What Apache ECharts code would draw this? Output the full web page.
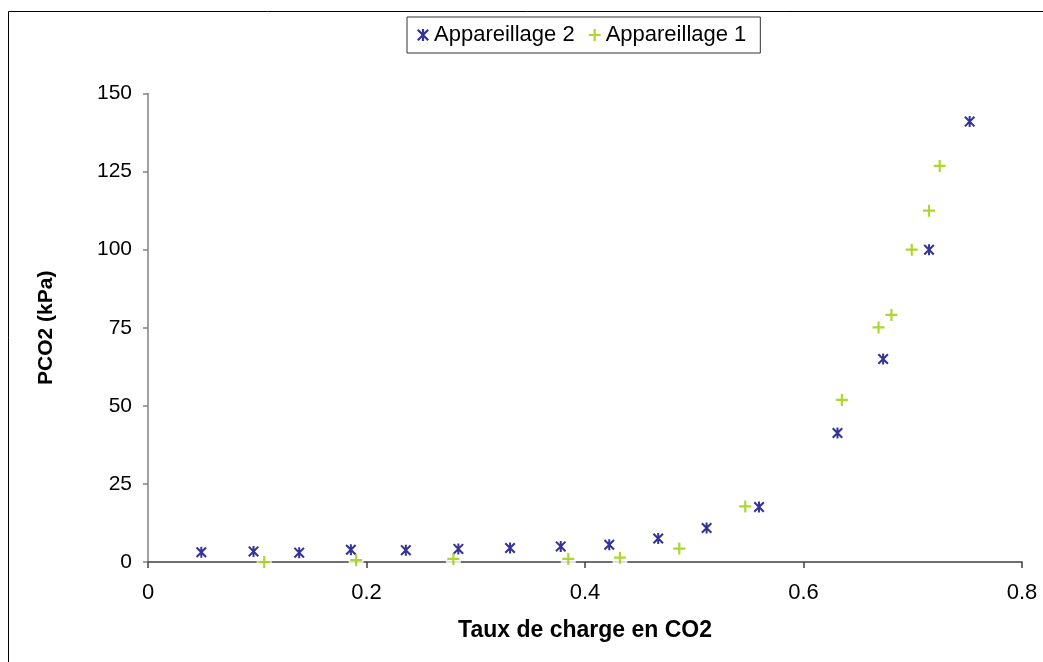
<!DOCTYPE html>
<html>
<head>
<meta charset="utf-8">
<script src="https://cdn.jsdelivr.net/npm/echarts@6/dist/echarts.min.js"></script>
<style>
  html, body { margin: 0; padding: 0; background: #fff; }
  #chart { width: 1043px; height: 662px; }
</style>
</head>
<body>
<div id="chart"></div>
<script>
// CO2 loading vs. partial pressure, two apparatuses
const xApp2 = [0.0488, 0.0966, 0.1384, 0.1857, 0.236, 0.2841, 0.3314, 0.3778, 0.4222, 0.467, 0.5113, 0.5593, 0.6311, 0.6729, 0.7149, 0.7521];
const yApp2 = [3.1, 3.4, 3.0, 3.9, 3.8, 4.2, 4.5, 5.0, 5.5, 7.5, 10.9, 17.6, 41.3, 65.0, 100.0, 141.0];

const xApp1 = [0.1064, 0.1905, 0.2795, 0.3847, 0.432, 0.4863, 0.5467, 0.6351, 0.6687, 0.6805, 0.6991, 0.7149, 0.7247];
const yApp1 = [0.0, 0.6, 1.0, 1.0, 1.4, 4.3, 17.8, 51.9, 75.1, 79.1, 100.0, 112.5, 126.8];

const xTicks = { min: 0, max: 0.8, interval: 0.2 };
const yTicks = { min: 0, max: 150, interval: 25 };

const seriesNames = ['Appareillage 2', 'Appareillage 1'];
const xTitle = 'Taux de charge en CO2';
const yTitle = 'PCO2 (kPa)';

const pairs = (xs, ys) => xs.map((x, i) => [x, ys[i]]);

// Marker shapes: asterisk (X with vertical bar) and plus
const STAR = 'path://M4.9,0 H7.1 V12 H4.9 Z M0,1.6 L1.6,0 L12,10.4 L10.4,12 Z M10.4,0 L12,1.6 L1.6,12 L0,10.4 Z';
const PLUS = 'path://M4.9,0 H7.1 V4.9 H12 V7.1 H7.1 V12 H4.9 V7.1 H0 V4.9 H4.9 Z';

const FONT = "'Liberation Sans', Arial, sans-serif";

const chart = echarts.init(document.getElementById('chart'), null, { renderer: 'canvas' });

chart.setOption({
  backgroundColor: '#ffffff',
  animation: false,
  graphic: [{
    type: 'rect',
    shape: { x: 8.5, y: 11.5, width: 1100, height: 700 },
    style: { fill: 'none', stroke: '#000000', lineWidth: 1 },
    silent: true,
    z: -1
  }],
  legend: {
    data: seriesNames,
    top: 17,
    left: 407,
    orient: 'horizontal',
    padding: [6, 14, 6, 10],
    itemGap: 14,
    itemWidth: 12,
    itemHeight: 12,
    borderColor: '#333333',
    borderWidth: 1,
    textStyle: { fontFamily: FONT, fontSize: 22, color: '#000000', lineHeight: 24 }
  },
  grid: { left: 148, right: 21, top: 93.5, bottom: 100, containLabel: false },
  xAxis: {
    type: 'value',
    min: xTicks.min, max: xTicks.max, interval: xTicks.interval,
    name: xTitle,
    nameLocation: 'middle',
    nameGap: 57,
    nameTextStyle: { fontFamily: FONT, fontSize: 23, fontWeight: 'bold', color: '#000000' },
    axisLine: { show: true, onZero: false, lineStyle: { color: '#404040', width: 1.5 } },
    axisTick: { show: true, inside: false, length: 6, lineStyle: { color: '#404040', width: 1.5 } },
    axisLabel: { fontFamily: FONT, fontSize: 22, color: '#000000', margin: 20 },
    splitLine: { show: false }
  },
  yAxis: {
    type: 'value',
    min: yTicks.min, max: yTicks.max, interval: yTicks.interval,
    name: yTitle,
    nameLocation: 'middle',
    nameGap: 91,
    nameRotate: 90,
    nameTextStyle: { fontFamily: FONT, fontSize: 21, fontWeight: 'bold', color: '#000000' },
    axisLine: { show: true, lineStyle: { color: '#808080', width: 1.5 } },
    axisTick: { show: true, inside: false, length: 5, lineStyle: { color: '#808080', width: 1.5 } },
    axisLabel: { fontFamily: FONT, fontSize: 21, color: '#000000', margin: 16 },
    splitLine: { show: false }
  },
  series: [
    {
      // white backing behind the plus markers, as on the original plot
      name: 'plus-backing',
      type: 'scatter',
      data: pairs(xApp1, yApp1),
      symbol: 'rect',
      symbolSize: 15,
      itemStyle: { color: '#ffffff' },
      silent: true,
      z: 1
    },
    {
      name: seriesNames[0],
      type: 'scatter',
      data: pairs(xApp2, yApp2),
      symbol: STAR,
      symbolSize: 11,
      itemStyle: { color: '#000080' },
      z: 3
    },
    {
      name: seriesNames[1],
      type: 'scatter',
      data: pairs(xApp1, yApp1),
      symbol: PLUS,
      symbolSize: 12,
      itemStyle: { color: '#99CC00' },
      z: 4
    }
  ]
});
</script>
</body>
</html>
